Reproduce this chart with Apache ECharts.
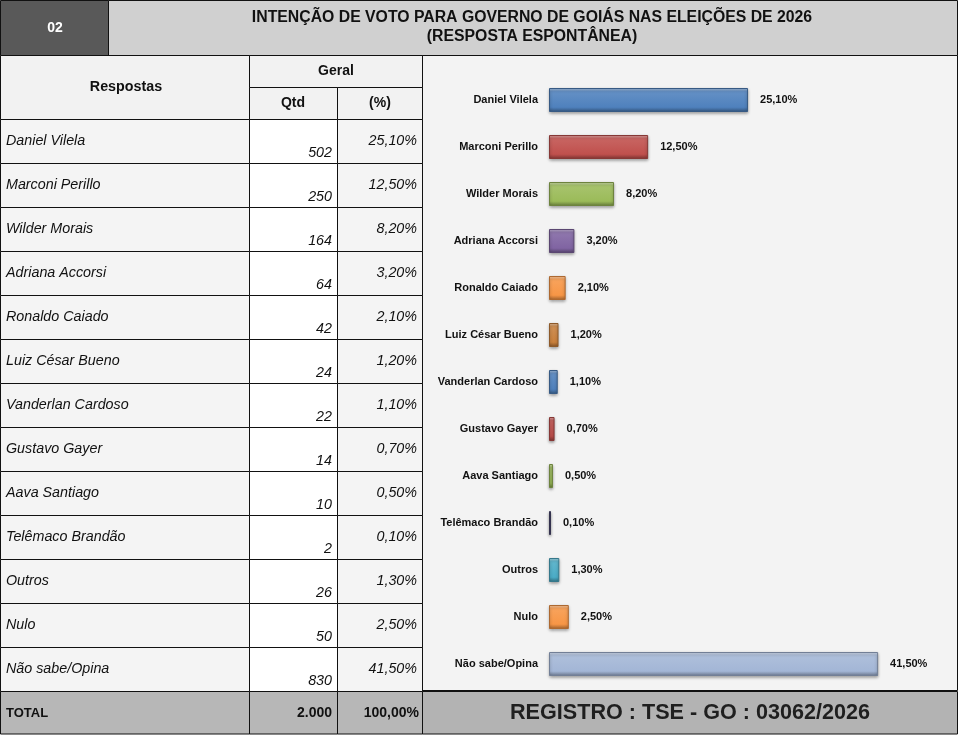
<!DOCTYPE html>
<html>
<head>
<meta charset="utf-8">
<script src="https://cdn.jsdelivr.net/npm/echarts@6/dist/echarts.min.js"></script>
<style>
  html, body { margin: 0; padding: 0; background: #fff; }
  #main { width: 958px; height: 735px; }
</style>
</head>
<body>
<div id="main"></div>
<script>
// dados da pesquisa
var respostas = ['Daniel Vilela', 'Marconi Perillo', 'Wilder Morais', 'Adriana Accorsi', 'Ronaldo Caiado',
  'Luiz César Bueno', 'Vanderlan Cardoso', 'Gustavo Gayer', 'Aava Santiago', 'Telêmaco Brandão',
  'Outros', 'Nulo', 'Não sabe/Opina'];
var qtd = [502, 250, 164, 64, 42, 24, 22, 14, 10, 2, 26, 50, 830];
var percentual = [25.1, 12.5, 8.2, 3.2, 2.1, 1.2, 1.1, 0.7, 0.5, 0.1, 1.3, 2.5, 41.5];
var totalQtd = '2.000';
var totalPct = '100,00%';
var numero = '02';
var titulo = ['INTENÇÃO DE VOTO PARA GOVERNO DE GOIÁS NAS ELEIÇÕES DE 2026', '(RESPOSTA ESPONTÂNEA)'];
var registro = 'REGISTRO : TSE - GO : 03062/2026';

// cores das barras (estilo)
var barColors = ['#4f81bd', '#c0504d', '#9bbb59', '#8064a2', '#f79646', '#c9803c', '#4f81bd',
  '#c0504d', '#9bbb59', '#4a4870', '#4bacc6', '#f79646', '#a3b6d6'];

function fmt(v) { return v.toFixed(2).replace('.', ',') + '%'; }

function shade(hex, f) {
  var n = parseInt(hex.slice(1), 16);
  var r = (n >> 16) & 255, g = (n >> 8) & 255, b = n & 255;
  function c(x) {
    x = f > 0 ? x + (255 - x) * f : x * (1 + f);
    return Math.max(0, Math.min(255, Math.round(x)));
  }
  return 'rgb(' + c(r) + ',' + c(g) + ',' + c(b) + ')';
}

var chart = echarts.init(document.getElementById('main'));

var FONT = 'Liberation Sans, Arial, sans-serif';
var colX = [0, 249, 337, 422];
var rowTop = 119, rowH = 44;
var g = [];

function rect(x, y, w, h, fill) {
  g.push({ type: 'rect', shape: { x: x, y: y, width: w, height: h },
    style: { fill: fill, stroke: '#111', lineWidth: 1 }, z: 1 });
}
function text(t, x, y, font, align, vAlign, fill) {
  g.push({ type: 'text', z: 3, style: { text: t, x: x, y: y, font: font,
    textAlign: align || 'left', textVerticalAlign: vAlign || 'middle', fill: fill || '#111' } });
}

// painel do grafico
g.push({ type: 'rect', shape: { x: 422.5, y: 55.5, width: 535, height: 635 },
  style: { fill: '#f3f3f3', stroke: '#111', lineWidth: 1 }, z: 0 });

// cabecalho
rect(0.5, 0.5, 108, 55, '#595959');
rect(108.5, 0.5, 849, 55, '#d0d0d0');
text(numero, 55, 28, 'bold 14px ' + FONT, 'center', 'middle', '#fff');
text(titulo[0], 532, 18, 'bold 15.8px ' + FONT, 'center');
text(titulo[1], 532, 37, 'bold 15.8px ' + FONT, 'center');

// cabecalho da tabela
rect(0.5, 55.5, colX[1], 64, '#f2f2f2');
rect(colX[1] + 0.5, 55.5, colX[3] - colX[1], 32, '#f2f2f2');
rect(colX[1] + 0.5, 87.5, colX[2] - colX[1], 32, '#f2f2f2');
rect(colX[2] + 0.5, 87.5, colX[3] - colX[2], 32, '#f2f2f2');
text('Respostas', 126, 87, 'bold 14.3px ' + FONT, 'center');
text('Geral', 336, 71, 'bold 14px ' + FONT, 'center');
text('Qtd', 293, 103, 'bold 14px ' + FONT, 'center');
text('(%)', 380, 103, 'bold 14px ' + FONT, 'center');

// linhas da tabela
respostas.forEach(function (nome, i) {
  var y = rowTop + i * rowH + 0.5;
  rect(0.5, y, colX[1], rowH, '#f4f4f4');
  rect(colX[1] + 0.5, y, colX[2] - colX[1], rowH, '#ffffff');
  rect(colX[2] + 0.5, y, colX[3] - colX[2], rowH, '#f4f4f4');
  text(nome, 6, y + 22, 'italic 14.3px ' + FONT, 'left');
  text(String(qtd[i]), colX[2] - 5, y + 34, 'italic 14.3px ' + FONT, 'right');
  text(fmt(percentual[i]), colX[3] - 5, y + 22, 'italic 14.3px ' + FONT, 'right');
});

// total
var ty = rowTop + respostas.length * rowH + 0.5;
rect(0.5, ty, colX[1], 735 - ty - 1, '#b7b7b7');
rect(colX[1] + 0.5, ty, colX[2] - colX[1], 735 - ty - 1, '#b7b7b7');
rect(colX[2] + 0.5, ty, colX[3] - colX[2], 735 - ty - 1, '#b7b7b7');
text('TOTAL', 6, ty + 22, 'bold 13px ' + FONT, 'left');
text(totalQtd, colX[2] - 5, ty + 22, 'bold 14px ' + FONT, 'right');
text(totalPct, colX[3] - 3, ty + 22, 'bold 14px ' + FONT, 'right');

// registro
rect(colX[3] + 0.5, ty, 957 - colX[3], 735 - ty - 1, '#b3b3b3');
text(registro, 690, ty + 22, 'bold 21.6px ' + FONT, 'center', 'middle', '#1f1f1f');

var option = {
  animation: false,
  backgroundColor: '#ffffff',
  graphic: g,
  grid: { left: 549, top: 76.5, height: 611, width: 396.5 },
  xAxis: { type: 'value', min: 0, max: 50, show: false },
  yAxis: {
    type: 'category',
    inverse: true,
    data: respostas,
    axisLine: { show: false },
    axisTick: { show: false },
    splitLine: { show: false },
    axisLabel: {
      margin: 11,
      color: '#111',
      fontFamily: 'Liberation Sans Narrow, Liberation Sans, sans-serif',
      fontWeight: 'bold',
      fontSize: 11
    }
  },
  series: [{
    type: 'bar',
    barWidth: 24,
    barMinHeight: 2,
    z: 5,
    data: percentual.map(function (v, i) {
      var c = barColors[i];
      return {
        value: v,
        itemStyle: {
          color: new echarts.graphic.LinearGradient(0, 0, 0, 1, [
            { offset: 0, color: shade(c, 0.5) },
            { offset: 0.15, color: shade(c, 0.12) },
            { offset: 0.8, color: c },
            { offset: 1, color: shade(c, -0.35) }
          ]),
          borderColor: shade(c, -0.3),
          borderWidth: 1,
          shadowColor: 'rgba(0,0,0,0.35)',
          shadowBlur: 3,
          shadowOffsetY: 1.5
        }
      };
    }),
    label: {
      show: true,
      position: 'right',
      distance: 12,
      color: '#111',
      fontFamily: 'Liberation Sans Narrow, Liberation Sans, sans-serif',
      fontWeight: 'bold',
      fontSize: 11,
      formatter: function (p) { return fmt(p.value); }
    }
  }]
};

chart.setOption(option);
</script>
</body>
</html>
